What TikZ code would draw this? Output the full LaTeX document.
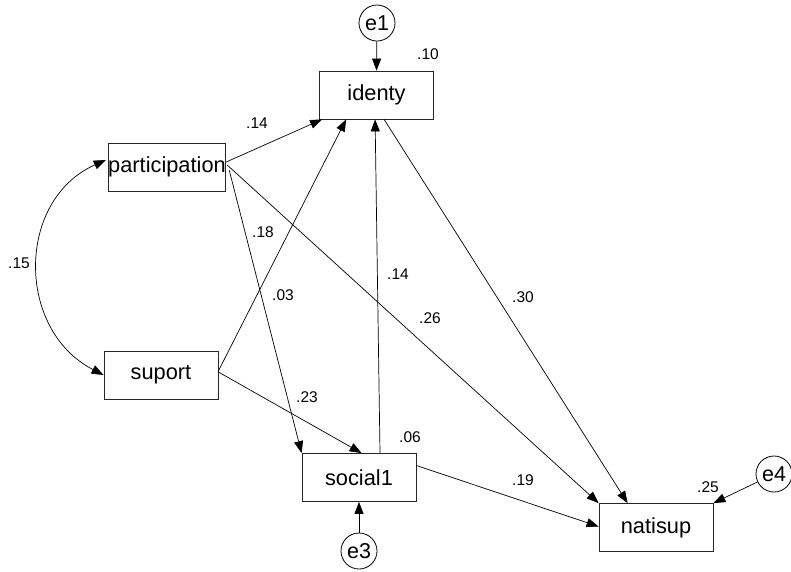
\documentclass[tikz,border=0pt]{standalone}
\usepackage{fontspec}
\setmainfont{Liberation Sans}
\usetikzlibrary{arrows.meta,calc}
\begin{document}
\begin{tikzpicture}[x=1pt,y=-1pt,
  var/.style={draw=black!85,line width=0.8pt,rectangle,minimum width=114pt,minimum height=48pt,inner sep=0pt,font=\fontsize{21.8}{24}\selectfont},
  err/.style={draw=black,line width=0.8pt,circle,minimum size=36pt,inner sep=0pt,font=\fontsize{21.5}{24}\selectfont},
  lbl/.style={inner sep=0pt,font=\fontsize{15.5}{17}\selectfont},
  path/.style={line width=0.7pt,-{Triangle[length=12pt,width=9pt]}},
  cov/.style={line width=0.7pt,{Triangle[length=12pt,width=9pt]}-{Triangle[length=12pt,width=9pt]}}]
\useasboundingbox (0,0) rectangle (791,571);
% variables
\node[var] (identy) at (376.5,95) {identy};
\node[var] (participation) at (167,167) {participation};
\node[var] (suport) at (161,375) {suport};
\node[var] (social1) at (359,477.5) {social1};
\node[var] (natisup) at (656,527.5) {natisup};
% errors
\node[err] (e1) at (377,23) {e1};
\node[err] (e3) at (359,551) {e3};
\node[err] (e4) at (774,474) {e4};
% paths
\draw[path] (e1) -- (identy.north);
\draw[path] (e3) -- (social1.south);
\draw[path] (e4) -- (natisup.north east);
\draw[path] ($(participation.east)+(0,-5)$) -- ($(identy.south west)+(3,0)$);
\draw[path] ($(suport.east)+(0,-4)$) -- ($(identy.south west)+(27,0)$);
\draw[path] ($(social1.north)+(21,0)$) -- ($(identy.south west)+(56,0)$);
\draw[path] ($(identy.south west)+(65,0)$) -- ($(natisup.north west)+(29,0)$);
\draw[path] ($(participation.east)+(1,-2)$) -- (natisup.north west);
\draw[path] ($(participation.east)+(3,3)$) -- (social1.north west);
\draw[path] ($(suport.east)+(0,-3)$) -- ($(social1.north west)+(60,0)$);
\draw[path] ($(social1.east)+(0,-12)$) -- ($(natisup.west)+(0,-1)$);
% covariance
\coordinate (c1) at (16,200);
\coordinate (c2) at (16,330);
\draw[cov] ($(participation.west)+(-2,-7)$) .. controls (c1) and (c2) .. (suport.west);
% labels
\node[lbl] (l10) at (428,54) {.10};
\node[lbl] (l14a) at (257,123) {.14};
\node[lbl] (l18) at (263,232) {.18};
\node[lbl] (l03) at (283,295) {.03};
\node[lbl] (l14b) at (398,274) {.14};
\node[lbl] (l26) at (430,318) {.26};
\node[lbl] (l30) at (523,297) {.30};
\node[lbl] (l15) at (19,263) {.15};
\node[lbl] (l23) at (307,397) {.23};
\node[lbl] (l06) at (410,437) {.06};
\node[lbl] (l19) at (523,480) {.19};
\node[lbl] (l25) at (708,487) {.25};
\end{tikzpicture}
\end{document}
